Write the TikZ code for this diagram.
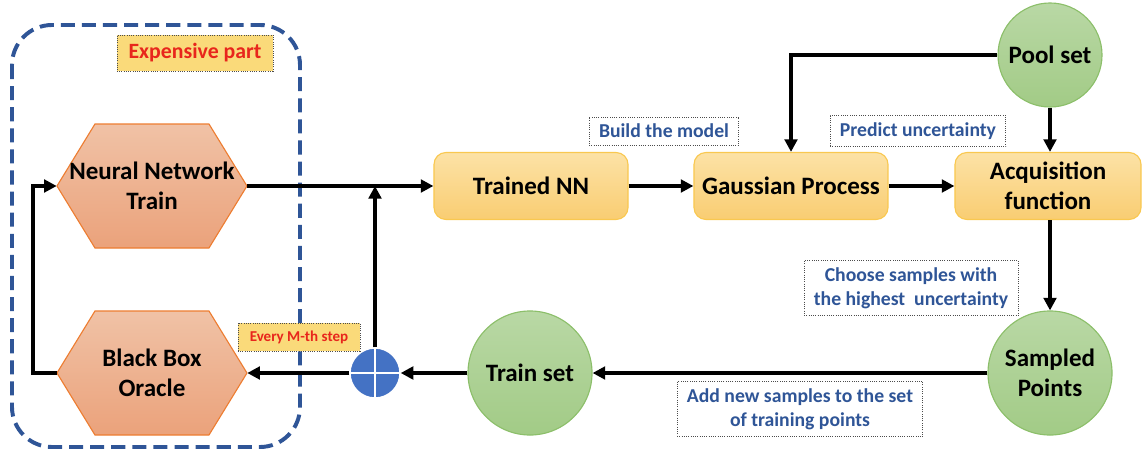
\documentclass[tikz,border=0pt]{standalone}
\usepackage{fontspec}
\setmainfont{Carlito}
\usetikzlibrary{arrows.meta}

\definecolor{hexline}{HTML}{ED7D31}
\definecolor{hextop}{HTML}{F0C2A6}
\definecolor{hexbot}{HTML}{EBA27B}
\definecolor{procline}{HTML}{F9C850}
\definecolor{proctop}{HTML}{FCE2A6}
\definecolor{procbot}{HTML}{F9CD72}
\definecolor{setline}{HTML}{8CBF6A}
\definecolor{settop}{HTML}{B9D8A5}
\definecolor{setbot}{HTML}{A2CB86}
\definecolor{noteblue}{HTML}{2F5597}
\definecolor{warnred}{HTML}{E8261C}
\definecolor{warnfill}{HTML}{FADA7A}
\definecolor{plusblue}{HTML}{4472C4}

% hexagon body behind a text node, pointed left and right
\newcommand{\hexbody}[1]{%
  \shade[draw=hexline, line width=0.8pt, top color=hextop, bottom color=hexbot]
    ([xshift=-2.375cm]#1) -- ++(38,-62) -- ++(114,0) -- ++(38,62)
    -- ++(-38,62) -- ++(-114,0) -- cycle;}

\begin{document}
\begin{tikzpicture}[
        x=0.025cm, y=-0.025cm,
        hexa/.style={
          minimum width=4.75cm, minimum height=3.1cm,
          inner sep=0pt, align=center,
          font=\fontsize{17.8}{21}\selectfont\bfseries
        },
        proc/.style={
          draw=procline, line width=0.8pt, rounded corners=0.3cm,
          top color=proctop, bottom color=procbot,
          minimum width=4.85cm, minimum height=1.675cm,
          align=center, font=\fontsize{17.8}{21}\selectfont\bfseries
        },
        dataset/.style={
          circle, draw=setline, line width=0.8pt,
          top color=settop, bottom color=setbot,
          inner sep=0pt, align=center,
          font=\fontsize{17.8}{21}\selectfont\bfseries
        },
        note/.style={
          draw=black!70, densely dotted, line width=0.6pt,
          fill=white, text=noteblue, align=center,
          inner xsep=7pt, inner ysep=5pt,
          font=\fontsize{14}{17}\selectfont\bfseries
        },
        warn/.style={
          draw=black!70, densely dotted, line width=0.6pt,
          fill=warnfill, text=warnred, align=center
        },
        arr/.style={-{Triangle[length=9pt,width=9pt]}, line width=2.6pt}
      ]
      \useasboundingbox (0,0) rectangle (1143,453);

      % expensive part
      \draw[noteblue, line width=2.8pt, dash pattern=on 10pt off 5pt,
        rounded corners=1cm] (12,25) rectangle (300,447);
      \node[warn, minimum width=3.9cm, minimum height=0.9cm,
        font=\fontsize{15.5}{18}\selectfont\bfseries] (expensive) at (195,53)
        {Expensive part};

      \coordinate (nnpos) at (152,186);
      \coordinate (oraclepos) at (152,373);
      \hexbody{nnpos}
      \hexbody{oraclepos}
      \node[hexa] (nntrain) at (nnpos) {Neural Network\\Train};
      \node[hexa] (oracle) at (oraclepos) {Black Box\\Oracle};

      % surrogate chain
      \node[proc] (trained) at (531,186) {Trained NN};
      \node[proc] (gp) at (791,186) {Gaussian Process};
      \node[proc, minimum width=4.65cm] (acq) at (1048,186) {Acquisition\\function};

      \node[dataset, minimum size=2.6cm] (pool) at (1050,55) {Pool set};
      \node[dataset, minimum size=3.1cm] (sampled) at (1050,373) {Sampled\\Points};
      \node[dataset, minimum size=3.1cm] (trainset) at (530,373) {Train set};

      \node[circle, fill=plusblue, draw=white, line width=1pt,
        minimum size=1.25cm] (merge) at (375,373) {};
      \draw[white, line width=1.2pt] (merge.north) -- (merge.south)
        (merge.west) -- (merge.east);

      % labels
      \node[note] (buildlbl) at (664,131) {Build the model};
      \node[note] (predlbl) at (918,131) {Predict uncertainty};
      \node[note] (chooselbl) at (911,288) {Choose samples with\\the highest\ \ uncertainty};
      \node[note] (addlbl) at (800,409) {Add new samples to the set\\of training points};
      \node[warn, minimum width=3.05cm, minimum height=0.7cm,
        font=\fontsize{10.7}{13}\selectfont\bfseries] (everylbl) at (299,337)
        {Every M-th step};

      % connectors
      \draw[arr] (nntrain.east) -- (trained.west);
      \draw[arr] (trained.east) -- (gp.west);
      \draw[arr] (gp.east) -- (acq.west);
      \draw[arr] (pool.west) -| (gp.north);
      \draw[arr] (pool.south) -- (acq.north -| pool.south);
      \draw[arr] (acq.south -| sampled.north) -- (sampled.north);
      \draw[arr] (sampled.west) -- (trainset.east);
      \draw[arr] (trainset.west) -- (merge.east);
      \draw[arr] (merge.west) -- (oracle.east);
      \draw[arr] (merge.north) -- (merge.north |- nntrain.east);
      \draw[arr] (oracle.west) -- ++(-24,0) |- (nntrain.west);
    \end{tikzpicture}
\end{document}
